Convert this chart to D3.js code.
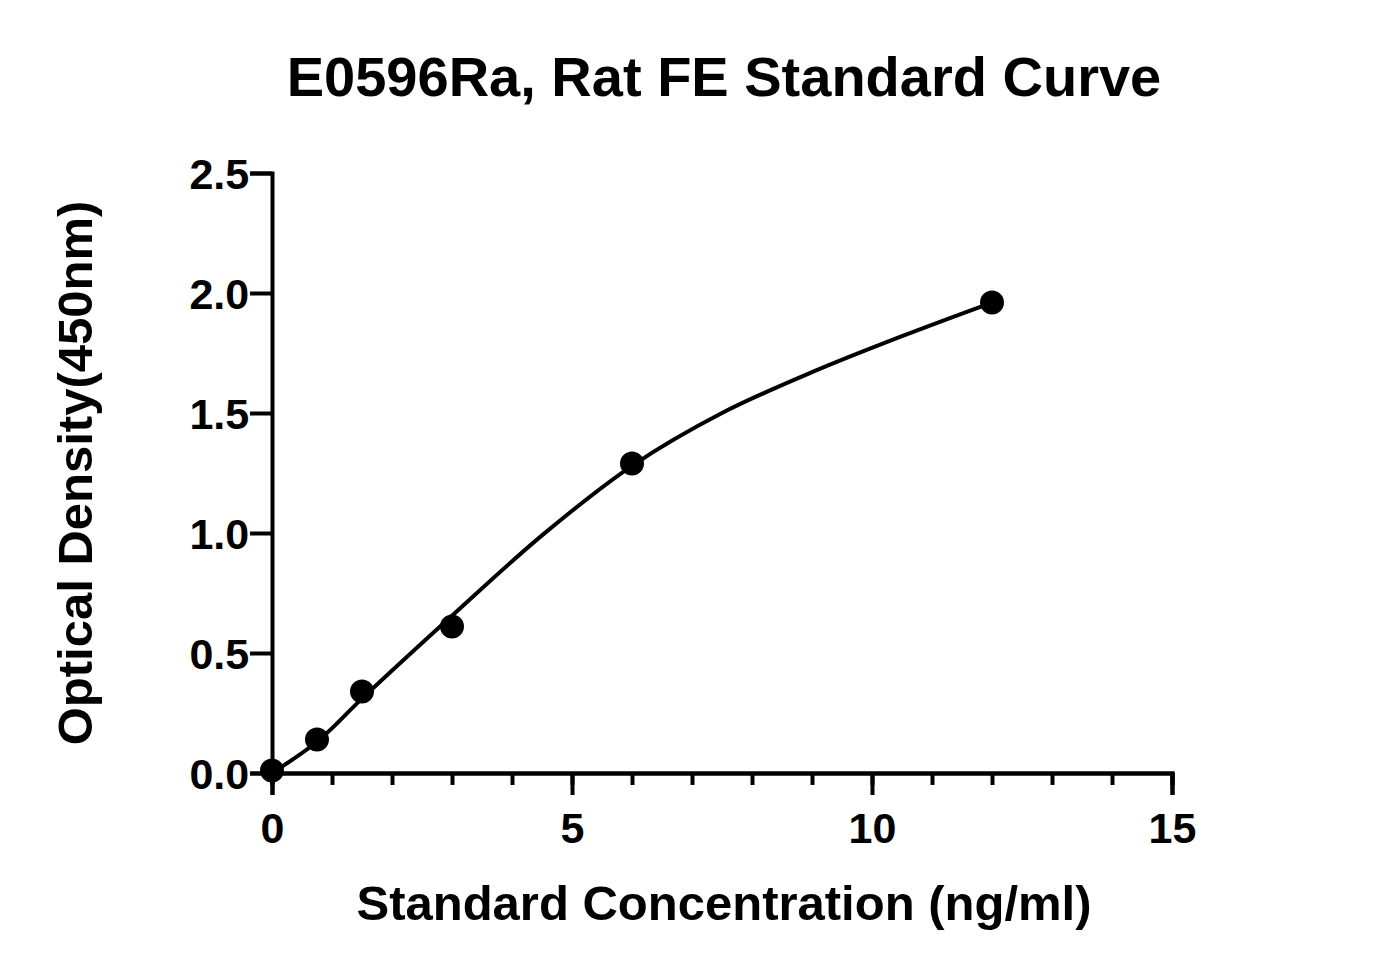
<!DOCTYPE html>
<html><head><meta charset="utf-8">
<script src="https://cdn.jsdelivr.net/npm/d3@7"></script>
<style>body{margin:0;background:#fff}text{font-family:"Liberation Sans",Arial,sans-serif;font-weight:bold}</style>
</head><body><svg id="c" width="1377" height="975"></svg>
<script>
const conc = [0, 0.75, 1.5, 3, 6, 12];
const od = [0.01, 0.14, 0.34, 0.61, 1.29, 1.96];
const curveX = [0, 0.75, 1.5, 3, 4.5, 6, 7.5, 9, 10.5, 12];
const curveY = [0, 0.13, 0.31, 0.655, 0.99, 1.28, 1.50, 1.67, 1.82, 1.96];
const xTicks = [0, 5, 10, 15];
const yTicks = [0, 0.5, 1.0, 1.5, 2.0, 2.5];

const svg = d3.select("#c");
const x = d3.scaleLinear().domain([0, 15]).range([272, 1172]);
const y = d3.scaleLinear().domain([0, 2.5]).range([773, 173]);

svg.append("text").attr("x", 724).attr("y", 96).attr("text-anchor", "middle")
  .attr("font-size", 56).text("E0596Ra, Rat FE Standard Curve");

const xa = svg.append("g").attr("transform", "translate(0,773)")
  .call(d3.axisBottom(x).tickValues(xTicks).tickSize(22).tickFormat(d3.format("d")));
svg.append("g").attr("transform", "translate(0,773)")
  .call(d3.axisBottom(x).tickValues(d3.range(0, 16)).tickSize(12).tickFormat(""));
const ya = svg.append("g").attr("transform", "translate(272,0)")
  .call(d3.axisLeft(y).tickValues(yTicks).tickSize(22).tickFormat(d3.format(".1f")));
svg.selectAll(".domain, .tick line").attr("stroke", "#000").attr("stroke-width", 4);
svg.selectAll(".tick text").attr("font-size", 43).attr("fill", "#000")
  .style("font-family", "Liberation Sans").style("font-weight", "bold");
xa.selectAll(".tick text").attr("dy", "1.05em");
ya.selectAll(".tick text").attr("dx", "0.05em").attr("dy", "0.35em");

svg.append("text").attr("x", 724).attr("y", 920).attr("text-anchor", "middle")
  .attr("font-size", 49).text("Standard Concentration (ng/ml)");
svg.append("text").attr("transform", "translate(92,473) rotate(-90)").attr("text-anchor", "middle")
  .attr("font-size", 49).text("Optical Density(450nm)");

const line = d3.line().x((d, i) => x(curveX[i])).y(d => y(d)).curve(d3.curveCatmullRom);
svg.append("path").attr("d", line(curveY)).attr("fill", "none").attr("stroke", "#000").attr("stroke-width", 4);
svg.selectAll("circle.p").data(conc).enter().append("circle")
  .attr("cx", d => x(d)).attr("cy", (d, i) => y(od[i])).attr("r", 12).attr("fill", "#000");
</script></body></html>
